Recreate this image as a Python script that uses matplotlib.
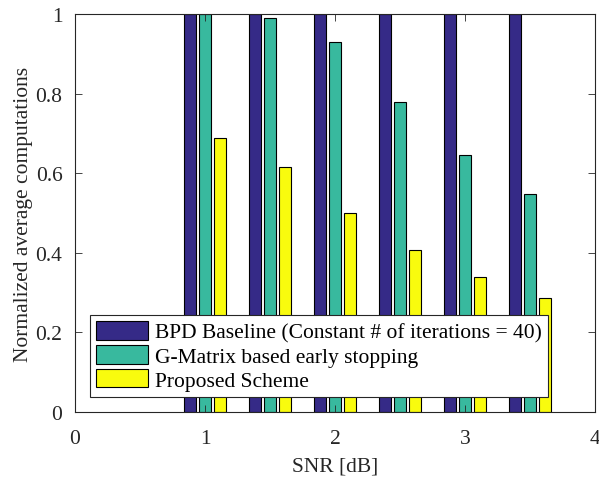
import numpy as np
import matplotlib.pyplot as plt

plt.rcParams['font.family'] = ['Liberation Serif', 'DejaVu Serif']
plt.rcParams['mathtext.fontset'] = 'stix'

snr = [1.0, 1.5, 2.0, 2.5, 3.0, 3.5]
baseline = [1.0, 1.0, 1.0, 1.0, 1.0, 1.0]
gmatrix = [0.999, 0.99, 0.929, 0.78, 0.646, 0.548]
proposed = [0.688, 0.615, 0.499, 0.407, 0.338, 0.286]
labels = ['BPD Baseline (Constant # of iterations = 40)',
          'G-Matrix based early stopping',
          'Proposed Scheme']
colors = ['#352a87', '#38b99e', '#f9fb0e']

fs = 15.5
fig = plt.figure(figsize=(5.99, 4.81), dpi=100)
ax = fig.add_axes([75/599, 1 - 413/481, 520/599, 398/481])

x = np.array(snr)
w = 0.09
off = 0.113
for i, (vals, c, lab) in enumerate(zip([baseline, gmatrix, proposed], colors, labels)):
    ax.bar(x + (i - 1)*off, vals, width=w, color=c, edgecolor='black',
           linewidth=0.8, label=lab)

ax.set_xlim(0, 4)
ax.set_ylim(0, 1)
ax.set_xticks([0, 1, 2, 3, 4])
ax.set_yticks([0, 0.2, 0.4, 0.6, 0.8, 1])
ax.set_yticklabels(['0', '0.2', '0.4', '0.6', '0.8', '1'])
ax.tick_params(direction='in', top=True, right=True, labelsize=fs, length=5,
               width=0.6, colors='#262626', labelcolor='#262626')
ax.tick_params(axis='x', pad=12.5)
ax.tick_params(axis='y', pad=9)
for s in ax.spines.values():
    s.set_linewidth(0.8)
    s.set_color('#262626')
ax.set_xlabel('SNR [dB]', fontsize=fs, color='#262626', labelpad=6)
ax.set_ylabel('Normalized average computations', fontsize=fs, color='#262626',
              labelpad=2)

leg = ax.legend(loc='lower left', bbox_to_anchor=(15/520, 15/398), fontsize=fs,
                frameon=True, fancybox=False, edgecolor='#262626', framealpha=1,
                handlelength=2.4, handleheight=0.95, handletextpad=0.3,
                borderpad=0.3, labelspacing=0.1, borderaxespad=0)
leg.get_frame().set_linewidth(0.8)

fig.savefig('out.png', dpi=100)
